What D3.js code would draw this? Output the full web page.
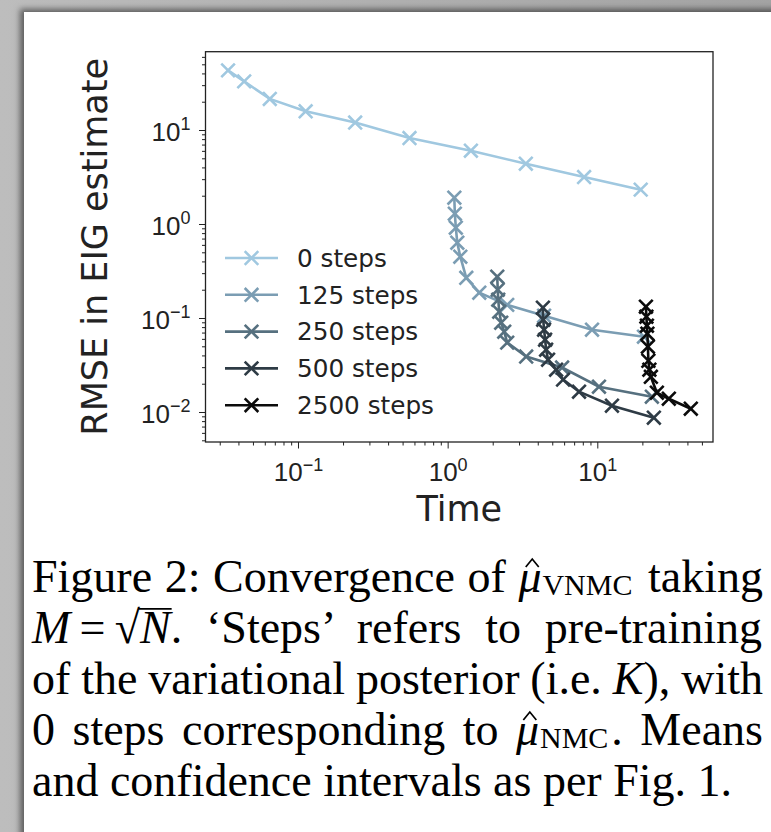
<!DOCTYPE html>
<html><head><meta charset="utf-8">
<script src="https://cdn.jsdelivr.net/npm/d3@7"></script>
<style>
html,body{margin:0;padding:0;width:771px;height:832px;overflow:hidden;background:#fff}
#frame{position:absolute;left:0;top:0;width:771px;height:832px;background:linear-gradient(to right,#bdbdbd,#a4a4a4)}
#panel{position:absolute;left:24px;top:12px;width:760px;height:830px;background:#fff;box-shadow:-4px -3px 6px rgba(0,0,0,0.5)}
#chart{position:absolute;left:0;top:0}
</style></head>
<body><div id="frame"></div><div id="panel"></div><div id="chart"></div>
<script>
// ---------- data ----------
const seriesNames = ["0 steps","125 steps","250 steps","500 steps","2500 steps"];
const time0    = [0.0341,0.0437,0.0648,0.1125,0.241,0.556,1.43,3.33,8.16,19.5];
const rmse0    = [43.1,32.9,21.4,15.8,12.0,8.22,6.02,4.38,3.16,2.32];
const time125  = [1.108,1.117,1.134,1.16,1.215,1.332,1.627,2.50,4.41,9.22,20.5];
const rmse125  = [1.905,1.287,0.914,0.633,0.449,0.268,0.186,0.138,0.1057,0.0751,0.0632];
const time250  = [2.145,2.161,2.178,2.211,2.28,2.388,2.50,3.347,5.818,10.26,23.15];
const rmse250  = [0.275,0.2,0.1566,0.1167,0.0891,0.0715,0.0547,0.0389,0.0297,0.0186,0.01455];
const time500  = [4.33,4.35,4.41,4.48,4.55,4.69,5.305,5.906,7.55,12.53,23.87];
const rmse500  = [0.1288,0.0959,0.0751,0.0588,0.046,0.036,0.0282,0.0221,0.01644,0.01167,0.0087];
const time2500 = [21.12,21.28,21.45,21.61,21.78,21.94,22.28,22.8,25.0,30.06,42.14];
const rmse2500 = [0.1319,0.1032,0.0828,0.0681,0.0495,0.0351,0.0282,0.0237,0.01604,0.01385,0.01084];
const xMajorTicks = [0.1,1,10];
const xTickExp = ["\u22121","0","1"];
const yMajorTicks = [0.01,0.1,1,10];
const yTickExp = ["\u22122","\u22121","0","1"];
const xLabel = "Time";
const yLabel = "RMSE in EIG estimate";
const captionLines = [
  [["Figure 2: Convergence of ",""],["\u03BC","hat"],["VNMC","sub"],[" taking","after"]],
  [["M","i"],["\u2009=\u2009",""],["\u221A","rad"],["N","i"],[". \u2018Steps\u2019 refers to pre-training",""]],
  [["of the variational posterior (i.e. ",""],["K","i"],["), with",""]],
  [["0 steps corresponding to ",""],["\u03BC","hat"],["NMC","sub"],[". Means","after"]],
  [["and confidence intervals as per Fig. 1.",""]]
];
// ---------- styles ----------
const colors = ["#a0c8e0","#7b9db3","#56707f","#2e3b45","#0b0b0b"];
const W=771,H=832;
const L=205.5,R=713,T=51.7,B=442;
const tickFont=26, supFont=18, labelFont=35, legendFont=24.7;

const series = [
  {t:time0,r:rmse0},{t:time125,r:rmse125},{t:time250,r:rmse250},{t:time500,r:rmse500},{t:time2500,r:rmse2500}
].map((s,i)=>({name:seriesNames[i],color:colors[i],pts:s.t.map((t,j)=>({t:t,r:s.r[j]}))}));

const svg = d3.select("#chart").append("svg").attr("width",W).attr("height",H)
  .style("font-family","'DejaVu Sans', sans-serif");

const x = d3.scaleLog().domain([Math.pow(10,-1.618),Math.pow(10,1.773)]).range([L,R]);
const y = d3.scaleLog().domain([Math.pow(10,-2.319),Math.pow(10,1.833)]).range([B,T]);

function minors(scale){
  const [a,b]=scale.domain(); const out=[];
  for(let d=-4; d<=3; d++) for(let k=2;k<=9;k++){const v=k*Math.pow(10,d); if(v>=a&&v<=b) out.push(v);}
  return out;
}
const axisColor="#222";
// x axis
const gx = svg.append("g").attr("transform",`translate(0,${B})`);
gx.append("g").call(d3.axisBottom(x).tickValues(minors(x)).tickSize(3.5).tickFormat(""));
const gxM = gx.append("g").call(d3.axisBottom(x).tickValues(xMajorTicks).tickSize(6.5).tickPadding(6).tickFormat(""));
gx.selectAll(".domain").remove();
gx.selectAll("line").attr("stroke",axisColor).attr("stroke-width",1);
gxM.selectAll(".tick").each(function(d,i){
  const t=d3.select(this).select("text").text(null).attr("dy",null)
    .attr("fill","#222").attr("font-size",tickFont).attr("text-anchor","middle").attr("y",39).attr("x",0);
  t.append("tspan").text("10");
  t.append("tspan").attr("dy",-10.5).attr("font-size",supFont).text(xTickExp[i]);
});
// y axis
const gy = svg.append("g").attr("transform",`translate(${L},0)`);
gy.append("g").call(d3.axisLeft(y).tickValues(minors(y)).tickSize(3.5).tickFormat(""));
const gyM = gy.append("g").call(d3.axisLeft(y).tickValues(yMajorTicks).tickSize(6.5).tickFormat(""));
gy.selectAll(".domain").remove();
gy.selectAll("line").attr("stroke",axisColor).attr("stroke-width",1);
gyM.selectAll(".tick").each(function(d,i){
  const t=d3.select(this).select("text").text(null).attr("dy",null)
    .attr("fill","#222").attr("font-size",tickFont).attr("text-anchor","end").attr("x",-15).attr("y",10);
  t.append("tspan").text("10");
  t.append("tspan").attr("dy",-10.5).attr("font-size",supFont).text(yTickExp[i]);
});
// frame
svg.append("rect").attr("x",L).attr("y",T).attr("width",R-L).attr("height",B-T)
  .attr("fill","none").attr("stroke",axisColor).attr("stroke-width",1.3);

// labels
svg.append("text").attr("x",(L+R)/2).attr("y",521).attr("text-anchor","middle")
  .attr("font-size",labelFont).attr("fill","#222").text(xLabel);
svg.append("text").attr("transform",`translate(106.5,${(T+B)/2}) rotate(-90)`).attr("text-anchor","middle")
  .attr("font-size",labelFont).attr("fill","#222").text(yLabel);

// lines + markers
svg.append("clipPath").attr("id","clp").append("rect").attr("x",L).attr("y",T).attr("width",R-L).attr("height",B-T);
const plot = svg.append("g").attr("clip-path","url(#clp)");
const line = d3.line().x(d=>x(d.t)).y(d=>y(d.r));
const ms=6.8;
const xPath = `M${-ms},${-ms}L${ms},${ms}M${-ms},${ms}L${ms},${-ms}`;
series.forEach(s=>{
  const g=plot.append("g");
  g.append("path").datum(s.pts).attr("d",line).attr("fill","none").attr("stroke",s.color).attr("stroke-width",2.6);
  g.selectAll("path.m").data(s.pts).enter().append("path").attr("class","m")
    .attr("transform",d=>`translate(${x(d.t)},${y(d.r)})`).attr("d",xPath)
    .attr("stroke",s.color).attr("stroke-width",2.6).attr("fill","none");
});

// legend
const lg = svg.append("g");
const rowY0=258, rowDy=36.8;
series.forEach((s,i)=>{
  const yy=rowY0+i*rowDy;
  lg.append("line").attr("x1",225).attr("x2",278).attr("y1",yy).attr("y2",yy).attr("stroke",s.color).attr("stroke-width",2.6);
  lg.append("path").attr("transform",`translate(251.5,${yy})`).attr("d",xPath).attr("stroke",s.color).attr("stroke-width",2.6).attr("fill","none");
  lg.append("text").attr("x",297).attr("y",yy+8.8).attr("font-size",legendFont).attr("fill","#222").text(s.name);
});

// caption
const capLeft=32, capRight=763, base0=592, capDy=51, capFont=46;
captionLines.forEach((parts,i)=>{
  const yb=base0+i*capDy;
  const t=svg.append("text").attr("x",capLeft).attr("y",yb)
    .attr("font-family","'Liberation Serif','Times New Roman',serif").attr("font-size",capFont).attr("fill","#000");
  let off=0;
  parts.forEach(p=>{
    const ts=t.append("tspan").text(p[0]);
    let target=0;
    if(p[1]==="i"||p[1]==="hat") ts.attr("font-style","italic");
    if(p[1]==="sub"){ ts.attr("font-size",30).attr("dx",0.02*capFont); target=3; }
    if(p[1]==="after"){ ts.attr("dx",3); }
    if(target!==off) ts.attr("dy",target-off);
    off=target;
  });
  const text=parts.map(p=>p[0]).join("");
  if(i<captionLines.length-1){
    const nsp=(text.match(/ /g)||[]).length;
    let ws=0;
    for(let it=0;it<3;it++){
      const bb=t.node().getBBox();
      ws+= ((capRight-capLeft)-bb.width)/nsp;
      t.attr("word-spacing",ws);
    }
  }
  const charIndex=k=>{let idx=0; for(let j=0;j<k;j++) idx+=parts[j][0].length; return idx;};
  // radical bar
  const ri=parts.findIndex(p=>p[1]==="rad");
  if(ri>=0){
    const idx=charIndex(ri);
    const er=t.node().getExtentOfChar(idx), en=t.node().getExtentOfChar(idx+1);
    svg.append("line").attr("x1",er.x+er.width-1.5).attr("x2",en.x+en.width+1)
      .attr("y1",yb-capFont*0.74).attr("y2",yb-capFont*0.74).attr("stroke","#000").attr("stroke-width",1.8);
  }
  // hat accent drawn as a path
  const hi=parts.findIndex(p=>p[1]==="hat");
  if(hi>=0){
    const e=t.node().getExtentOfChar(charIndex(hi));
    const cx=e.x+e.width*0.6;
    svg.append("path").attr("d",`M${cx-6.5},${yb-25}L${cx},${yb-33}L${cx+6.5},${yb-25}`)
      .attr("fill","none").attr("stroke","#000").attr("stroke-width",1.7);
  }
});
</script>
</body></html>
